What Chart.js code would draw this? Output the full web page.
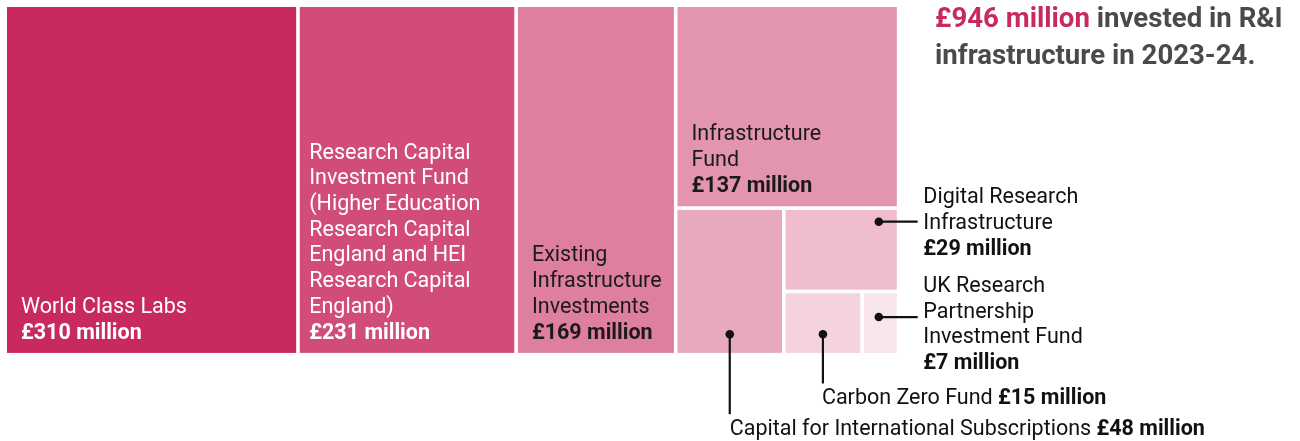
<!DOCTYPE html>
<html><head><meta charset="utf-8">
<script src="https://cdn.jsdelivr.net/npm/chart.js@4.4.1/dist/chart.umd.min.js"></script>
<style>html,body{margin:0;padding:0;background:#fff;overflow:hidden}#wrap{width:1300px;height:441px;position:relative}</style>
</head><body><div id="wrap"><canvas id="c" width="1300" height="441"></canvas></div>
<script>
// ---- data ----
const categories = ['World Class Labs', 'Research Capital Investment Fund (Higher Education Research Capital England and HEI Research Capital England)', 'Existing Infrastructure Investments', 'Infrastructure Fund', 'Capital for International Subscriptions', 'Digital Research Infrastructure', 'Carbon Zero Fund', 'UK Research Partnership Investment Fund'];
const values = [310, 231, 169, 137, 48, 29, 15, 7];
const amountLabels = ['£310 million', '£231 million', '£169 million', '£137 million', '£48 million', '£29 million', '£15 million', '£7 million'];
const labelLines = [
  ['World Class Labs'],
  ['Research Capital', 'Investment Fund', '(Higher Education', 'Research Capital', 'England and HEI', 'Research Capital', 'England)'],
  ['Existing', 'Infrastructure', 'Investments'],
  ['Infrastructure', 'Fund'],
  ['Capital for International Subscriptions'],
  ['Digital Research', 'Infrastructure'],
  ['Carbon Zero Fund'],
  ['UK Research', 'Partnership', 'Investment Fund']
];
const totalLabel = '£946 million';
const titleRest1 = ' invested in R&I';
const titleLine2 = 'infrastructure in 2023-24.';

// ---- styles ----
const colors = ['#C82A5F', '#D14D78', '#DF7F9F', '#E394AF', '#E8A9C0', '#EFBDCF', '#F4D3DF', '#F8E5EC'];
const textColors = ['#FFFFFF', '#FFFFFF', '#1A1A1A', '#1A1A1A'];
const insidePad = [14, 9.5, 14, 14];
// nesting of the slice-and-dice layout (indices into values)
const layoutTree = {dir: 'h', children: [0, 1, 2, {dir: 'v', children: [3, {dir: 'h', children: [4, {dir: 'v', children: [5, {dir: 'h', children: [6, 7]}]}]}]}]};

const total = values.reduce((a, b) => a + b, 0);

function sumNode(n) { return typeof n === 'number' ? values[n] : n.children.reduce((s, c) => s + sumNode(c), 0); }
function layout(n, x0, x1, y0, y1, out) {
  if (typeof n === 'number') { out[n] = {x0, x1, y0, y1}; return out; }
  const s = sumNode(n);
  let pos = n.dir === 'h' ? x0 : y0;
  n.children.forEach(c => {
    const frac = sumNode(c) / s;
    if (n.dir === 'h') { const w = (x1 - x0) * frac; layout(c, pos, pos + w, y0, y1, out); pos += w; }
    else { const h = (y1 - y0) * frac; layout(c, x0, x1, pos, pos + h, out); pos += h; }
  });
  return out;
}
const cells = layout(layoutTree, 0, total, 0, 1, []);

const FONT = 'Roboto';
const FS = 21.5;
const treemapPlugin = {
  id: 'treemap',
  afterDatasetsDraw(chart) {
    const ctx = chart.ctx, xs = chart.scales.x, ys = chart.scales.y;
    const gap = 1.8;
    const px = cells.map(c => ({
      l: xs.getPixelForValue(c.x0) + gap, r: xs.getPixelForValue(c.x1) - gap,
      t: ys.getPixelForValue(c.y0) + gap, b: ys.getPixelForValue(c.y1) - gap
    }));
    ctx.save();
    px.forEach((p, i) => { ctx.fillStyle = colors[i]; ctx.fillRect(p.l, p.t, p.r - p.l, p.b - p.t); });
    const pitch = 25.7;
    const reg = FS + 'px ' + FONT, bold = 'bold ' + FS + 'px ' + FONT;
    ctx.textBaseline = 'alphabetic';
    ctx.textAlign = 'left';
    // inside labels
    for (let i = 0; i < 4; i++) {
      const p = px[i];
      const lines = labelLines[i];
      const x = p.l + insidePad[i];
      const last = p.b - 14.4;
      ctx.fillStyle = textColors[i];
      ctx.font = bold;
      ctx.fillText(amountLabels[i], x, last);
      ctx.font = reg;
      lines.forEach((ln, k) => ctx.fillText(ln, x, last - (lines.length - k) * pitch));
    }
    const right = Math.max(...px.map(p => p.r));
    const bottom = Math.max(...px.map(p => p.b));
    const dot = (x, y) => { ctx.beginPath(); ctx.arc(x, y, 4.3, 0, Math.PI * 2); ctx.fill(); };
    ctx.fillStyle = '#111'; ctx.strokeStyle = '#111'; ctx.lineWidth = 2.2;
    const tx = right + 26.5;
    // side labels (Digital, UK RPIF)
    [[5, 11.8, -6.4], [7, 23.8, -1.2]].forEach(([i, dy, by]) => {
      const p = px[i];
      const dx = p.r - 18, dyy = p.t + dy;
      ctx.fillStyle = '#111';
      dot(dx, dyy);
      ctx.beginPath(); ctx.moveTo(dx, dyy); ctx.lineTo(tx - 5.6, dyy); ctx.stroke();
      const lines = labelLines[i];
      ctx.font = reg;
      lines.forEach((ln, k) => ctx.fillText(ln, tx, p.t + by + k * pitch));
      ctx.font = bold;
      ctx.fillText(amountLabels[i], tx, p.t + by + lines.length * pitch);
    });
    // bottom labels (Carbon Zero, Capital Intl)
    [[6, 30.6, 50.6, -1], [4, 61.3, 81.6, 0]].forEach(([i, lineEnd, base, off]) => {
      const p = px[i];
      const dx = (p.l + p.r) / 2, dyy = p.b - 18.7;
      dot(dx, dyy);
      ctx.beginPath(); ctx.moveTo(dx, dyy); ctx.lineTo(dx, bottom + lineEnd); ctx.stroke();
      ctx.font = reg;
      const t1 = labelLines[i][0] + ' ';
      const x0 = dx + off;
      ctx.fillText(t1, x0, bottom + base);
      const w = ctx.measureText(t1).width;
      ctx.font = bold;
      ctx.fillText(amountLabels[i], x0 + w, bottom + base);
    });
    // title
    ctx.font = 'bold 27.6px ' + FONT;
    ctx.fillStyle = colors[0];
    ctx.fillText(totalLabel, 935, 27.3);
    const w1 = ctx.measureText(totalLabel).width;
    ctx.fillStyle = '#4A4A4A';
    ctx.fillText(titleRest1, 935 + w1, 27.3);
    ctx.fillText(titleLine2, 935, 64);
    ctx.restore();
  }
};

function build() {
  new Chart(document.getElementById('c'), {
    type: 'scatter',
    data: {
      datasets: [{
        label: 'R&I infrastructure',
        data: cells.map(c => ({x: (c.x0 + c.x1) / 2, y: (c.y0 + c.y1) / 2})),
        pointRadius: 0, pointHoverRadius: 0
      }]
    },
    options: {
      responsive: false, animation: false, devicePixelRatio: 1,
      layout: {padding: {left: 5.2, top: 5.2, right: 401.4, bottom: 86.3}},
      scales: {
        x: {type: 'linear', min: 0, max: total, display: false},
        y: {type: 'linear', min: 0, max: 1, reverse: true, display: false}
      },
      plugins: {legend: {display: false}, tooltip: {enabled: false}}
    },
    plugins: [treemapPlugin]
  });
}
Promise.all([document.fonts.load('21px Roboto'), document.fonts.load('bold 21px Roboto')]).then(build, build);
</script></body></html>
